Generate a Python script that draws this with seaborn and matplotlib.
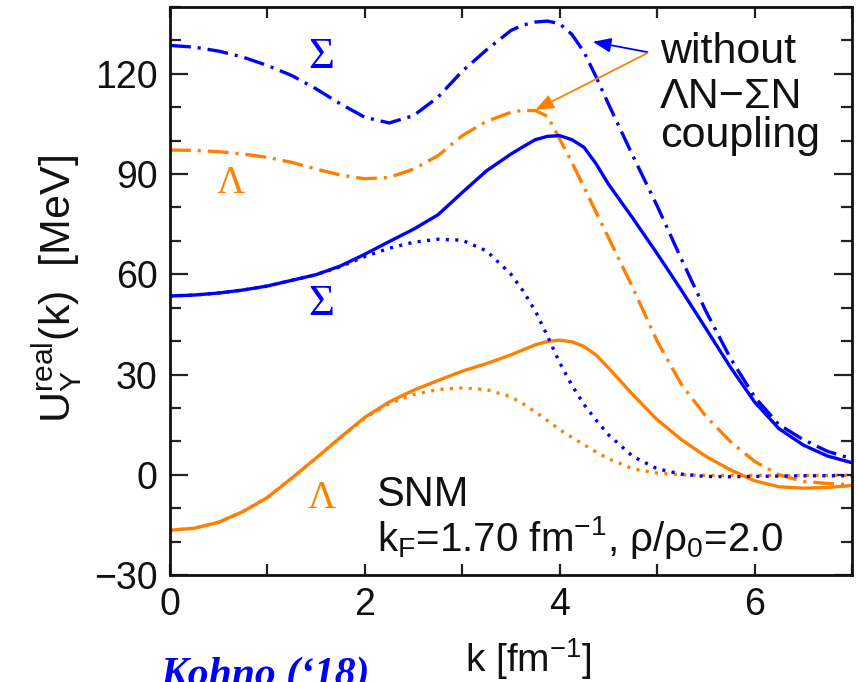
import numpy as np
import pandas as pd
import matplotlib
matplotlib.use("Agg")
import matplotlib.pyplot as plt
import seaborn as sns
from matplotlib.ticker import MultipleLocator

# ---------------- data ----------------
k = [0.0, 0.25, 0.5, 0.75, 1.0, 1.25, 1.5, 1.75, 2.0, 2.25, 2.5, 2.75, 3.0,
     3.25, 3.5, 3.625, 3.75, 3.875, 4.0, 4.125, 4.25, 4.375, 4.5, 4.75, 5.0,
     5.25, 5.5, 5.75, 6.0, 6.25, 6.5, 6.75, 7.0]

# Sigma, full (solid blue)
sigma_full = [53.5, 53.8, 54.4, 55.3, 56.5, 58.2, 59.9, 62.5, 66.0, 69.8, 73.5,
              77.8, 84.5, 91.0, 96.0, 98.2, 100.3, 101.3, 101.5, 100.3, 98.0,
              93.0, 87.0, 76.8, 66.2, 55.2, 43.8, 32.3, 21.8, 13.8, 8.9, 5.6,
              3.6]
# Sigma, dotted (blue)
sigma_dot = [53.5, 53.8, 54.4, 55.3, 56.5, 58.2, 59.9, 62.3, 65.3, 67.8, 69.6,
             70.5, 70.2, 67.0, 60.0, 55.0, 49.0, 41.5, 33.5, 26.8, 21.0, 16.3,
             12.0, 5.5, 1.8, 0.2, -0.5, -0.6, -0.5, -0.4, -0.3, -0.3, -0.3]
# Sigma, without Lambda N - Sigma N coupling (dash-dot blue)
sigma_nc = [128.5, 128.0, 126.8, 125.0, 122.5, 119.5, 115.5, 111.0, 107.0,
            105.3, 107.5, 113.0, 120.8, 127.2, 133.0, 134.6, 135.5, 135.8,
            135.0, 131.8, 126.5, 119.0, 111.0, 95.5, 80.5, 64.5, 49.0, 35.0,
            23.3, 15.0, 10.5, 7.0, 4.8]
# Lambda, full (solid orange)
lambda_full = [-16.6, -16.0, -14.2, -11.0, -6.8, -1.0, 5.0, 11.2, 17.2, 21.8,
               25.3, 28.2, 31.0, 33.3, 35.9, 37.4, 38.9, 39.9, 40.3, 39.8,
               38.4, 35.8, 32.0, 24.0, 16.5, 10.5, 5.5, 1.5, -1.8, -3.6, -4.0,
               -3.8, -3.2]
# Lambda, dotted (orange)
lambda_dot = [-16.6, -16.0, -14.2, -11.0, -6.8, -1.0, 5.0, 11.2, 17.0, 21.3,
              24.0, 25.5, 26.0, 25.5, 23.3, 21.2, 18.8, 16.2, 13.5, 11.2, 9.0,
              6.8, 4.8, 1.8, 0.5, 0.0, -0.2, -0.2, -0.2, -0.2, -0.2, -0.2,
              -0.2]
# Lambda, without coupling (dash-dot orange)
lambda_nc = [97.2, 97.1, 96.7, 96.0, 95.0, 93.5, 91.5, 89.7, 88.6, 89.0, 91.5,
             95.5, 101.5, 105.8, 108.5, 109.1, 109.0, 107.3, 100.5, 93.5, 86.0,
             78.5, 71.0, 56.0, 40.0, 27.0, 17.5, 10.0, 4.0, 0.0, -2.0, -2.6,
             -3.0]

x_ticks = [0, 2, 4, 6]
y_ticks = [-30, 0, 30, 60, 90, 120]

df = pd.DataFrame({"k": k, "sigma_full": sigma_full, "sigma_dot": sigma_dot,
                   "sigma_nc": sigma_nc, "lambda_full": lambda_full,
                   "lambda_dot": lambda_dot, "lambda_nc": lambda_nc})

# ---------------- style ----------------
sns.set_style("ticks")
plt.rcParams['font.family'] = ['Liberation Sans', 'DejaVu Sans']
plt.rcParams['mathtext.fontset'] = 'custom'
plt.rcParams['mathtext.rm'] = 'Liberation Sans'
plt.rcParams['mathtext.it'] = 'Liberation Sans:italic'
plt.rcParams['mathtext.bf'] = 'Liberation Sans:bold'
plt.rcParams['lines.scale_dashes'] = False

BLUE = "#0000ff"
ORANGE = "#ff8000"
DASHDOT = (0, (15, 5, 2.2, 5))
DOT = (0, (2.2, 4.6))
LW = 2.4

fig = plt.figure(figsize=(8.56, 6.82), dpi=100)
ax = fig.add_axes([0.1986, 0.1569, 0.7967, 0.8328])

series = [
    ("lambda_dot", ORANGE, DOT),
    ("lambda_full", ORANGE, "-"),
    ("lambda_nc", ORANGE, DASHDOT),
    ("sigma_dot", BLUE, DOT),
    ("sigma_full", BLUE, "-"),
    ("sigma_nc", BLUE, DASHDOT),
]
for col, c, ls in series:
    sns.lineplot(data=df, x="k", y=col, ax=ax, color=c, lw=LW, linestyle=ls)

ax.set_xlim(0, 7)
ax.set_ylim(-30, 140)
ax.set_xticks(x_ticks)
ax.set_yticks(y_ticks)
ax.xaxis.set_minor_locator(MultipleLocator(1))
ax.yaxis.set_minor_locator(MultipleLocator(10))
ax.set_xlabel("")
ax.set_ylabel("")

for s in ax.spines.values():
    s.set_visible(True)
    s.set_linewidth(2.0)
    s.set_color("#111111")

ax.tick_params(which='both', direction='in', top=True, right=True,
               width=1.6, color="#222222", labelsize=27, labelcolor="#111111")
ax.tick_params(axis='y', which='major', length=13, pad=9)
ax.tick_params(axis='y', which='minor', length=8)
ax.tick_params(axis='x', which='both', length=8, pad=9)

# axis labels
ax.text(-0.1466, 0.5044, r"U$_\mathrm{Y}^\mathrm{real}$(k)  [MeV]",
        rotation=90, rotation_mode='anchor', ha='center', va='baseline',
        fontsize=31, transform=ax.transAxes, color="#111111")
ax.text(0.526, -0.171, r"k [fm$^{-1}$]", ha='center', va='baseline',
        fontsize=28, transform=ax.transAxes, color="#111111")

# curve labels
ax.text(1.417, 121.8, "Σ", color=BLUE, fontsize=32, family='Liberation Serif',
        ha='left', va='baseline')
ax.text(0.482, 84.3, "Λ", color=ORANGE, fontsize=28, family='Liberation Serif',
        ha='left', va='baseline')
ax.text(1.417, 47.9, "Σ", color=BLUE, fontsize=32, family='Liberation Serif',
        ha='left', va='baseline')
ax.text(1.417, -9.9, "Λ", color=ORANGE, fontsize=28, family='Liberation Serif',
        ha='left', va='baseline')

# note text
ax.text(5.03, 123.3, "without", fontsize=31, ha='left', va='baseline', color="#111111")
ax.text(5.03, 109.8, "ΛN−ΣN", fontsize=31, ha='left', va='baseline', color="#111111")
ax.text(5.03, 98.1, "coupling", fontsize=31, ha='left', va='baseline', color="#111111")

ax.annotate("", xy=(4.34, 129.6), xytext=(4.9, 126.5),
            arrowprops=dict(arrowstyle='-|>,head_length=0.55,head_width=0.22',
                            color=BLUE, lw=1.3, shrinkA=0, shrinkB=0,
                            mutation_scale=20))
ax.annotate("", xy=(3.75, 109.2), xytext=(4.9, 126.2),
            arrowprops=dict(arrowstyle='-|>,head_length=0.55,head_width=0.22',
                            color=ORANGE, lw=1.3, shrinkA=0, shrinkB=0,
                            mutation_scale=20))

ax.text(2.12, -9.2, "SNM", fontsize=30, ha='left', va='baseline', color="#111111")
ax.text(2.12, -22.7, r"k$_\mathrm{F}$=1.70 fm$^{-1}$, ρ/ρ$_\mathrm{0}$=2.0",
        fontsize=29, ha='left', va='baseline', color="#111111")

fig.text(160 / 856, -0.0059, "Kohno (‘18)", color=BLUE, fontsize=30,
         fontweight='bold', fontstyle='italic', family='Liberation Serif',
         ha='left', va='baseline')

fig.savefig("out.png", dpi=100)
